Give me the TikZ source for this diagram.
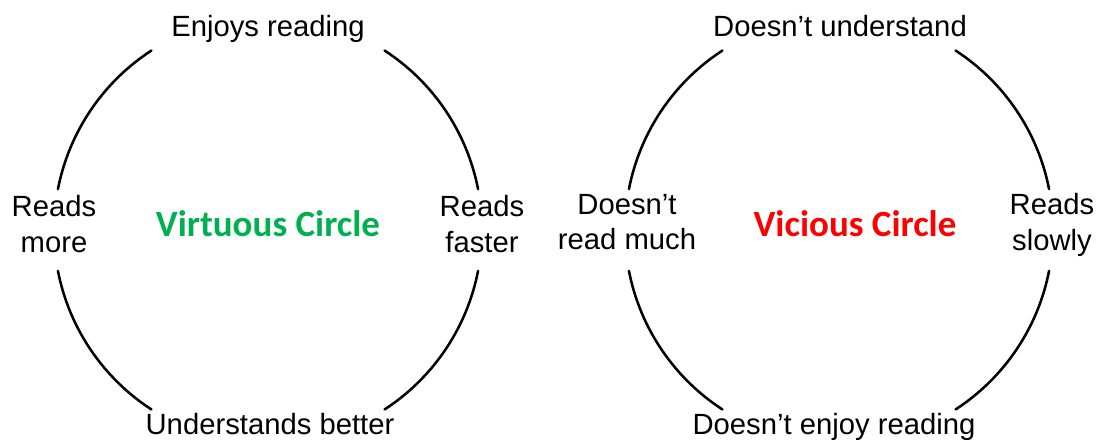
\documentclass[tikz,border=0pt]{standalone}
\usepackage{fontspec}
\setmainfont{Liberation Sans}
\newfontfamily\calibri{Carlito}
\definecolor{virtgreen}{RGB}{0,176,80}
\definecolor{vicred}{RGB}{255,0,0}
\begin{document}
\begin{tikzpicture}[x=0.025cm,y=0.025cm,
  lbl/.style={inner sep=0pt, align=center, font=\fontsize{20.8pt}{25pt}\selectfont},
  ttl/.style={inner sep=0pt, anchor=base, font=\calibri\bfseries\fontsize{26.3pt}{31pt}\selectfont},
  ring/.style={line width=1.8pt, line cap=round}]
\useasboundingbox (0,0) rectangle (1100,440);
\coordinate (vc) at (268,210);
\coordinate (kc) at (839,210);

\node[lbl, anchor=base] (vtop) at (268,403) {Enjoys reading};
\node[lbl, anchor=base] (vbot) at (270,5) {Understands better};
\node[lbl] (vleft) at (54,216) {Reads\\more};
\node[lbl] (vright) at (482,216) {Reads\\faster};
\node[ttl, text=virtgreen] (vtitle) at (268,203) {Virtuous Circle};

\node[lbl, anchor=base] (ktop) at (840,403) {Doesn't understand};
\node[lbl, anchor=base] (kbot) at (834,5) {Doesn't enjoy reading};
\node[lbl] (kleft) at (627,218) {Doesn't\\read much};
\node[lbl] (kright) at (1052,215) {Reads\\slowly};
\node[ttl, text=vicred] (ktitle) at (855,203) {Vicious Circle};

\draw[ring] ([shift={(11:214)}]vc) arc[start angle=11, end angle=57, radius=214];
\draw[ring] ([shift={(123:214)}]vc) arc[start angle=123, end angle=169, radius=214];
\draw[ring] ([shift={(191:214)}]vc) arc[start angle=191, end angle=237, radius=214];
\draw[ring] ([shift={(303:214)}]vc) arc[start angle=303, end angle=349, radius=214];

\draw[ring] ([shift={(11:214)}]kc) arc[start angle=11, end angle=57, radius=214];
\draw[ring] ([shift={(123:214)}]kc) arc[start angle=123, end angle=169, radius=214];
\draw[ring] ([shift={(191:214)}]kc) arc[start angle=191, end angle=237, radius=214];
\draw[ring] ([shift={(303:214)}]kc) arc[start angle=303, end angle=349, radius=214];
\end{tikzpicture}
\end{document}
